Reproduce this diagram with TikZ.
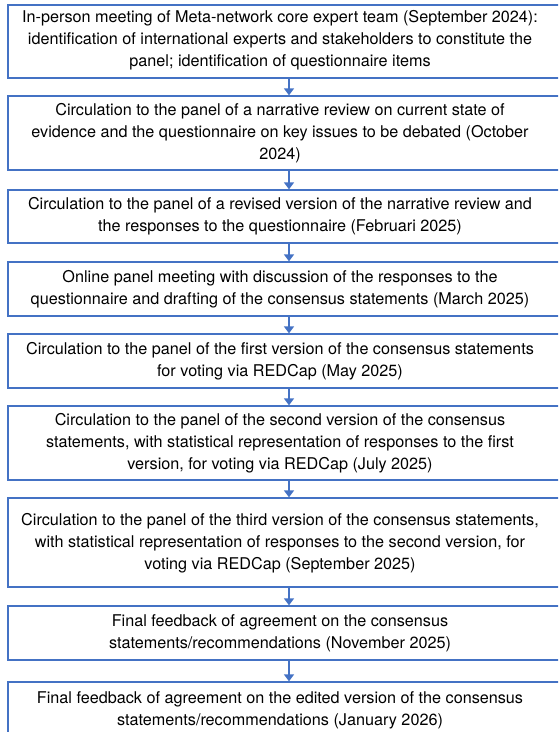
\documentclass[tikz,border=0pt]{standalone}
\usepackage{fontspec}
\setmainfont{TeX Gyre Heros}
\usetikzlibrary{arrows.meta,calc}
\definecolor{boxblue}{HTML}{4472C4}
\tikzset{
  stepbox/.style={draw=boxblue, line width=1.4pt, minimum width=562pt, inner sep=0pt},
  steptext/.style={align=center, inner sep=0pt, font=\fontsize{16.2pt}{22pt}\selectfont, text=black},
  flowarrow/.style={draw=boxblue, line width=2.6pt, -{Triangle[width=10pt,length=7pt]}}
}
\begin{document}
\begin{tikzpicture}[x=1pt,y=-1pt]
\useasboundingbox (0,0) rectangle (558,732);
\clip (0,0) rectangle (558,732);
\node[stepbox, minimum height=73pt] (b1) at (289,41.5) {};
\node[stepbox, minimum height=74pt] (b2) at (289,133) {};
\node[stepbox, minimum height=53pt] (b3) at (289,216.5) {};
\node[stepbox, minimum height=54pt] (b4) at (289,289) {};
\node[stepbox, minimum height=54pt] (b5) at (289,361) {};
\node[stepbox, minimum height=74pt] (b6) at (289,443) {};
\node[stepbox, minimum height=89pt] (b7) at (289,542.5) {};
\node[stepbox, minimum height=54pt] (b8) at (289,633) {};
\node[stepbox, minimum height=56pt] (b9) at (289,710) {};
\node[steptext] (t1) at ($(b1.center)+(-9,-1)$) {In-person meeting of Meta-network core expert team (September 2024):\\identification of international experts and stakeholders to constitute the\\panel; identification of questionnaire items};
\node[steptext] (t2) at ($(b2.center)+(-9,0)$) {Circulation to the panel of a narrative review on current state of\\evidence and the questionnaire on key issues to be debated (October\\2024)};
\node[steptext] (t3) at ($(b3.center)+(-9,0)$) {Circulation to the panel of a revised version of the narrative review and\\the responses to the questionnaire (Februari 2025)};
\node[steptext] (t4) at ($(b4.center)+(-9,0)$) {Online panel meeting with discussion of the responses to the\\questionnaire and drafting of the consensus statements (March 2025)};
\node[steptext] (t5) at ($(b5.center)+(-9,0)$) {Circulation to the panel of the first version of the consensus statements\\for voting via REDCap (May 2025)};
\node[steptext] (t6) at ($(b6.center)+(-9,0)$) {Circulation to the panel of the second version of the consensus\\statements, with statistical representation of responses to the first\\version, for voting via REDCap (July 2025)};
\node[steptext] (t7) at ($(b7.center)+(-9,1)$) {Circulation to the panel of the third version of the consensus statements,\\with statistical representation of responses to the second version, for\\voting via REDCap (September 2025)};
\node[steptext] (t8) at ($(b8.center)+(-9,0)$) {Final feedback of agreement on the consensus\\statements/recommendations (November 2025)};
\node[steptext] (t9) at ($(b9.center)+(-9,0)$) {Final feedback of agreement on the edited version of the consensus\\statements/recommendations (January 2026)};
\foreach \a/\b in {b1/b2,b2/b3,b3/b4,b4/b5,b5/b6,b6/b7,b7/b8,b8/b9}
  \draw[flowarrow] (\a.south) -- (\b.north);
\end{tikzpicture}
\end{document}
